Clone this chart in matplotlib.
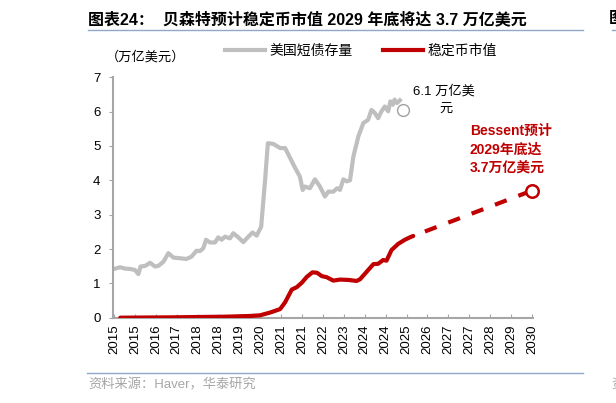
import matplotlib
matplotlib.use("Agg")
import matplotlib.pyplot as plt
from matplotlib.lines import Line2D

plt.rcParams['font.family'] = ['Liberation Sans', 'Noto Sans CJK SC']

# 美国短债存量 (万亿美元), x in decimal years
bill_x = [2015.00, 2015.22, 2015.39, 2015.57, 2015.75, 2015.87, 2015.95, 2016.12, 2016.29,
          2016.47, 2016.59, 2016.77, 2016.95, 2017.13, 2017.37, 2017.60, 2017.78, 2017.96,
          2018.08, 2018.20, 2018.30, 2018.44, 2018.62, 2018.74, 2018.86, 2018.98, 2019.16,
          2019.28, 2019.46, 2019.64, 2019.82, 2019.97, 2020.12, 2020.28, 2020.42, 2020.52,
          2020.72, 2020.96, 2021.14, 2021.32, 2021.50, 2021.67, 2021.77, 2021.85, 2022.03,
          2022.21, 2022.39, 2022.57, 2022.69, 2022.87, 2023.01, 2023.11, 2023.23, 2023.35,
          2023.47, 2023.59, 2023.77, 2023.95, 2024.12, 2024.24, 2024.36, 2024.48, 2024.60,
          2024.72, 2024.84, 2024.92, 2025.01, 2025.07, 2025.16, 2025.26]
bill_y = [1.42, 1.47, 1.43, 1.42, 1.39, 1.27, 1.49, 1.51, 1.60,
          1.49, 1.51, 1.63, 1.88, 1.75, 1.73, 1.71, 1.78, 1.95,
          1.94, 2.02, 2.27, 2.19, 2.19, 2.34, 2.27, 2.36, 2.31,
          2.46, 2.34, 2.20, 2.36, 2.48, 2.39, 2.65, 4.00, 5.08,
          5.06, 4.94, 4.94, 4.65, 4.36, 4.11, 3.72, 3.82, 3.77,
          4.03, 3.82, 3.53, 3.67, 3.67, 3.77, 3.72, 4.03, 3.97,
          4.00, 4.69, 5.28, 5.67, 5.76, 6.05, 5.96, 5.81, 6.01,
          6.15, 6.01, 6.30, 6.20, 6.35, 6.25, 6.33]
bill_last = (2025.38, 6.05)

# 稳定币市值 (万亿美元)
stable_x = [2015.22, 2016.00, 2017.00, 2018.00, 2019.00, 2019.88, 2020.24, 2020.60, 2020.96,
            2021.14, 2021.38, 2021.56, 2021.74, 2021.92, 2022.12, 2022.28, 2022.46, 2022.63,
            2022.87, 2023.11, 2023.41, 2023.71, 2023.83, 2024.07, 2024.31, 2024.48, 2024.66,
            2024.78, 2024.96, 2025.20, 2025.44, 2025.62, 2025.74]
stable_y = [0.00, 0.005, 0.01, 0.02, 0.03, 0.05, 0.07, 0.15, 0.25,
            0.45, 0.82, 0.89, 1.02, 1.19, 1.32, 1.31, 1.21, 1.18,
            1.08, 1.11, 1.10, 1.07, 1.12, 1.34, 1.56, 1.57, 1.68,
            1.66, 1.97, 2.15, 2.27, 2.34, 2.38]
# Bessent projection
proj_x = [2025.74, 2030.0]
proj_y = [2.38, 3.7]

tick_pos = [2015 + 0.75 * k for k in range(21)]
tick_labels = ['2015', '2015', '2016', '2017', '2018', '2018', '2019', '2020', '2021', '2021',
               '2022', '2023', '2024', '2024', '2025', '2026', '2027', '2027', '2028', '2029', '2030']

GRAY = '#BFBFBF'
RED = '#C00000'
AXC = '#A6A6A6'
RULE = '#8FA8C8'

fig = plt.figure(figsize=(6.16, 4.03), dpi=100)
ax = fig.add_axes([113 / 616, 1 - 317.7 / 403, 420 / 616, 240.4 / 403])

ax.plot(bill_x, bill_y, color=GRAY, lw=3, solid_joinstyle='round', zorder=2)
ax.plot(*bill_last, 'o', ms=8.5, mfc='white', mec='#A0A0A0', mew=1, zorder=3, clip_on=False)
ax.plot(stable_x, stable_y, color=RED, lw=3, solid_capstyle='round', solid_joinstyle='round', zorder=3)
ax.plot(proj_x, proj_y, color=RED, lw=3, linestyle=(3, (3, 3)), zorder=3, clip_on=False)
ax.plot(proj_x[-1], proj_y[-1], 'o', ms=9, mfc='white', mec=RED, mew=1.8, zorder=4, clip_on=False)

ax.set_xlim(2014.96, 2030.04)
ax.set_ylim(0, 7)
ax.set_yticks(range(8))
ax.set_xticks(tick_pos)
ax.set_xticklabels(tick_labels, rotation=90)
for s in ['top', 'right']:
    ax.spines[s].set_visible(False)
for s in ['left', 'bottom']:
    ax.spines[s].set_color(AXC)
    ax.spines[s].set_linewidth(1.5)
ax.tick_params(axis='y', direction='out', length=3, color=AXC, labelsize=9.5, pad=6)
ax.tick_params(axis='x', direction='in', length=3, color=AXC, labelsize=9.5, pad=5)

# annotations
ax.text(2025.73, 6.59, '6.1 万亿美', fontsize=9.5, ha='left', va='center')
ax.text(2026.91, 6.08, '元', fontsize=9.5, ha='center', va='center')
ax.text(2027.77, 4.89, 'Bessent预计\n2029年底达\n3.7万亿美元', color=RED, fontsize=10,
        fontweight='bold', ha='left', va='center', linespacing=1.42)

# legend
handles = [Line2D([], [], color=GRAY, lw=3), Line2D([], [], color=RED, lw=3)]
fig.legend(handles, ['美国短债存量', '稳定币市值'], loc='center', ncol=2,
           bbox_to_anchor=(361 / 616, 1 - 51 / 403), frameon=False, fontsize=10,
           handlelength=2.9, handletextpad=0.3, columnspacing=2.2)
fig.text(106 / 616, 1 - 57 / 403, '（万亿美元）', fontsize=9.5, ha='left', va='center')

# title and rules
fig.text(88 / 616, 1 - 19 / 403, '图表24：  贝森特预计稳定币市值 2029 年底将达 3.7 万亿美元',
         fontsize=11.5, fontweight='bold', ha='left', va='center')
fig.add_artist(Line2D([88 / 616, 583 / 616], [1 - 29.5 / 403] * 2, color=RULE, lw=1))
fig.add_artist(Line2D([612 / 616, 1], [1 - 29.5 / 403] * 2, color=RULE, lw=1))
fig.text(609 / 616, 1 - 19 / 403, '图', fontsize=11.5, fontweight='bold', ha='left', va='center')
fig.add_artist(Line2D([87 / 616, 583 / 616], [1 - 372.5 / 403] * 2, color=RULE, lw=1))
fig.text(88 / 616, 1 - 385 / 403, '资料来源：Haver，华泰研究', fontsize=9.5, color='#A6A6A6',
         ha='left', va='center')
fig.text(611 / 616, 1 - 385 / 403, '资', fontsize=9.5, color='#A6A6A6', ha='left', va='center')

fig.savefig('out.png', dpi=100)
